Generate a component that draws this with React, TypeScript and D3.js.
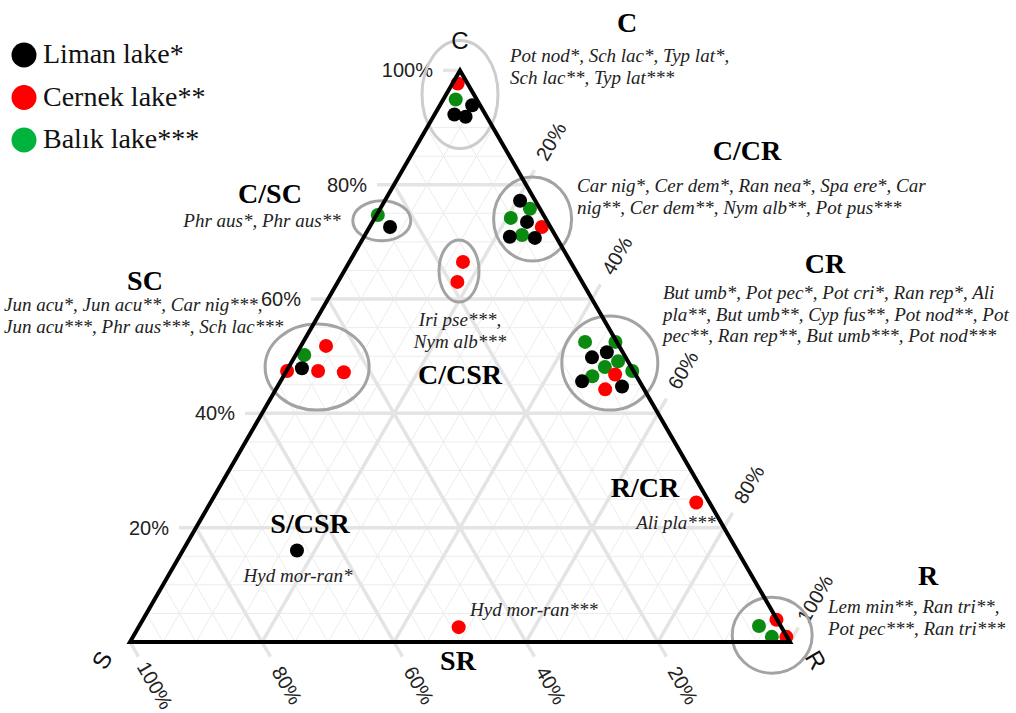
import React from 'react';
import * as d3 from 'd3';

const limanPoints: [number, number, number][] = [
  [93.9, 1.2, 4.9], [92.3, 4.7, 3.0], [91.9, 3.2, 4.9],
  [77.2, 2.3, 20.5], [73.5, 3.1, 23.4], [70.9, 7.0, 22.1], [70.7, 3.3, 26.0],
  [49.8, 5.1, 45.1], [50.7, 2.4, 46.9], [45.6, 8.7, 45.7], [44.7, 3.1, 52.2],
  [72.6, 24.3, 3.1],
  [47.9, 50.0, 2.1],
  [16.0, 66.7, 17.3],
];
const cernekPoints: [number, number, number][] = [
  [97.7, 1.5, 0.8],
  [72.6, 1.3, 26.1],
  [46.8, 3.1, 50.1], [44.2, 5.9, 49.9],
  [66.5, 16.3, 17.2], [63.0, 18.9, 18.1],
  [51.8, 44.4, 3.8], [47.4, 52.5, 0.1], [47.4, 47.8, 4.8], [47.2, 44.0, 8.8],
  [24.4, 2.0, 73.6],
  [2.6, 48.9, 48.5],
  [3.9, 0.1, 96.0], [0.9, 0.1, 99.0],
];
const balikPoints: [number, number, number][] = [
  [94.9, 3.2, 1.9],
  [75.8, 1.5, 22.7], [74.2, 5.2, 20.6], [71.2, 5.0, 23.8],
  [52.5, 4.8, 42.7], [52.5, 0.2, 47.3], [49.1, 1.5, 49.4], [48.1, 4.0, 47.9], [47.4, 0.2, 52.4], [46.5, 6.7, 46.8],
  [74.7, 25.1, 0.2],
  [50.2, 48.5, 1.3],
  [2.8, 3.3, 93.9], [0.9, 2.3, 96.8],
];

const lakeNames = ['Liman lake*', 'Cernek lake**', 'Balık lake***'];
const tickValues = [20, 40, 60, 80, 100];

// strategy groups circled on the chart: centre as [C, S, R], then ellipse radii
const groupEllipses: { c: number; s: number; r: number; rx: number; ry: number; light?: boolean }[] = [
  { c: 95.8, s: 2.1, r: 2.1, rx: 38, ry: 54, light: true },
  { c: 74.0, s: 2.0, r: 24.0, rx: 39, ry: 42 },
  { c: 48.8, s: 2.9, r: 48.3, rx: 48, ry: 47 },
  { c: 73.7, s: 25.0, r: 1.3, rx: 29, ry: 20 },
  { c: 64.9, s: 17.7, r: 17.4, rx: 20, ry: 31 },
  { c: 48.1, s: 47.6, r: 4.3, rx: 52, ry: 43 },
  { c: 1.2, s: 2.1, r: 96.7, rx: 40, ry: 38 },
];

const headings = [
  { text: 'C', x: 627, y: 32 },
  { text: 'C/CR', x: 747, y: 160 },
  { text: 'CR', x: 825, y: 273 },
  { text: 'C/SC', x: 270, y: 203 },
  { text: 'SC', x: 145, y: 290 },
  { text: 'C/CSR', x: 460, y: 384 },
  { text: 'R/CR', x: 645, y: 497 },
  { text: 'S/CSR', x: 310, y: 533 },
  { text: 'SR', x: 458, y: 670 },
  { text: 'R', x: 928, y: 585 },
];

const speciesNotes: { lines: string[]; x: number; y: number; anchor: string }[] = [
  { lines: ['Pot nod*, Sch lac*, Typ lat*,', 'Sch lac**, Typ lat***'], x: 510, y: 62, anchor: 'start' },
  { lines: ['Car nig*, Cer dem*, Ran nea*, Spa ere*, Car', 'nig**, Cer dem**, Nym alb**, Pot pus***'], x: 577, y: 192, anchor: 'start' },
  { lines: ['But umb*, Pot pec*, Pot cri*, Ran rep*, Ali', 'pla**, But umb**, Cyp fus**, Pot nod**, Pot', 'pec**, Ran rep**, But umb***, Pot nod***'], x: 663, y: 299, anchor: 'start' },
  { lines: ['Phr aus*, Phr aus**'], x: 262, y: 227, anchor: 'middle' },
  { lines: ['Jun acu*, Jun acu**, Car nig***,', 'Jun acu***, Phr aus***, Sch lac***'], x: 4, y: 311, anchor: 'start' },
  { lines: ['Iri pse***,', 'Nym alb***'], x: 460, y: 326, anchor: 'middle' },
  { lines: ['Ali pla***'], x: 676, y: 529, anchor: 'middle' },
  { lines: ['Hyd mor-ran*'], x: 298, y: 582, anchor: 'middle' },
  { lines: ['Hyd mor-ran***'], x: 470, y: 616, anchor: 'start' },
  { lines: ['Lem min**, Ran tri**,', 'Pot pec***, Ran tri***'], x: 828, y: 613, anchor: 'start' },
];

const W = 1016;
const H = 713;
const left = 130;
const side = 660;
const base = 642;
const height = side * Math.sqrt(3) / 2;

const xScale = d3.scaleLinear().domain([0, 100]).range([0, side]);
const yScale = d3.scaleLinear().domain([0, 100]).range([base, base - height]);

const project = (c: number, r: number): [number, number] => [left + xScale(r) + xScale(c) / 2, yScale(c)];

const sans = '"Liberation Sans", Arial, sans-serif';
const serif = '"Liberation Serif", "Times New Roman", serif';
const colors = ['#000000', '#ff0000', '#0b8a12'];
const legendColors = ['#000000', '#ff0000', '#00b33c'];

const App: React.FC = () => {
  const minor = d3.range(5, 100, 5);
  const tickLen = 17;
  const labelDist = 50;
  const dirR: [number, number] = [0.5, -Math.sqrt(3) / 2];
  const dirS: [number, number] = [0.5, Math.sqrt(3) / 2];

  const gridLines = (v: number) => [
    [project(v, 0), project(v, 100 - v)],
    [project(0, v), project(100 - v, v)],
    [project(0, 100 - v), project(100 - v, 0)],
  ];

  const corners = [project(100, 0), project(0, 0), project(0, 100)];
  const series = [
    { pts: balikPoints, color: colors[2] },
    { pts: cernekPoints, color: colors[1] },
    { pts: limanPoints, color: colors[0] },
  ];

  return (
    <svg width={W} height={H} style={{ position: 'absolute', left: 0, top: 0, background: '#fff' }}>
      {/* minor grid */}
      <g stroke="#ececec" strokeWidth={1}>
        {minor.filter((v) => v % 20 !== 0).flatMap((v) =>
          gridLines(v).map(([a, b], i) => <line key={`m${v}-${i}`} x1={a[0]} y1={a[1]} x2={b[0]} y2={b[1]} />)
        )}
      </g>
      {/* major grid + ticks */}
      <g stroke="#e4e4e4" strokeWidth={3.5}>
        {tickValues.filter((v) => v < 100).flatMap((v) =>
          gridLines(v).map(([a, b], i) => <line key={`M${v}-${i}`} x1={a[0]} y1={a[1]} x2={b[0]} y2={b[1]} />)
        )}
        {tickValues.map((v) => {
          const pc = project(v, 0);
          const pr = project(100 - v, v);
          const ps = project(0, 100 - v);
          return (
            <g key={`t${v}`}>
              <line x1={pc[0] - tickLen} y1={pc[1]} x2={pc[0]} y2={pc[1]} />
              <line x1={pr[0]} y1={pr[1]} x2={pr[0] + dirR[0] * tickLen} y2={pr[1] + dirR[1] * tickLen} />
              <line x1={ps[0]} y1={ps[1]} x2={ps[0] + dirS[0] * tickLen} y2={ps[1] + dirS[1] * tickLen} />
            </g>
          );
        })}
      </g>
      {/* tick labels */}
      <g fontFamily={sans} fontSize={20} fill="#222">
        {tickValues.map((v) => {
          const pc = project(v, 0);
          const pr = project(100 - v, v);
          const ps = project(0, 100 - v);
          const lr = [pr[0] + dirR[0] * labelDist, pr[1] + dirR[1] * labelDist];
          const ls = [ps[0] + dirS[0] * labelDist, ps[1] + dirS[1] * labelDist];
          return (
            <g key={`l${v}`}>
              <text x={pc[0] - 27} y={pc[1]} textAnchor="end" dominantBaseline="central">{`${v}%`}</text>
              <text x={lr[0]} y={lr[1]} textAnchor="middle" dominantBaseline="central" transform={`rotate(-60 ${lr[0]} ${lr[1]})`}>{`${v}%`}</text>
              <text x={ls[0]} y={ls[1]} textAnchor="middle" dominantBaseline="central" transform={`rotate(60 ${ls[0]} ${ls[1]})`}>{`${v}%`}</text>
            </g>
          );
        })}
      </g>
      {/* group ellipses */}
      {groupEllipses.map((e, i) => {
        const [cx, cy] = project(e.c, e.r);
        return <ellipse key={`e${i}`} cx={cx} cy={cy} rx={e.rx} ry={e.ry} fill="none" stroke={e.light ? '#cdcdcd' : '#a3a3a3'} strokeWidth={3} />;
      })}
      {/* points */}
      {series.map((sr, si) => (
        <g key={`s${si}`} fill={sr.color}>
          {sr.pts.map(([c, , r], i) => {
            const [x, y] = project(c, r);
            return <circle key={i} cx={x} cy={y} r={7} />;
          })}
        </g>
      ))}
      {/* triangle */}
      <polygon points={corners.map((p) => p.join(',')).join(' ')} fill="none" stroke="#000" strokeWidth={4} strokeLinejoin="miter" />
      {/* vertex labels */}
      <g fontFamily={sans} fontSize={24} fill="#111">
        <text x={corners[0][0]} y={corners[0][1] - 30} textAnchor="middle" dominantBaseline="central">C</text>
        <text x={corners[1][0] - 28} y={corners[1][1] + 18} textAnchor="middle" dominantBaseline="central" transform={`rotate(-60 ${corners[1][0] - 28} ${corners[1][1] + 18})`}>S</text>
        <text x={corners[2][0] + 26} y={corners[2][1] + 18} textAnchor="middle" dominantBaseline="central" transform={`rotate(60 ${corners[2][0] + 26} ${corners[2][1] + 18})`}>R</text>
      </g>
      {/* strategy headings */}
      <g fontFamily={serif} fontSize={28} fontWeight="bold" fill="#000" textAnchor="middle">
        {headings.map((h) => <text key={h.text} x={h.x} y={h.y}>{h.text}</text>)}
      </g>
      {/* species notes */}
      <g fontFamily={serif} fontSize={19} fontStyle="italic" fill="#222">
        {speciesNotes.map((n, i) => (
          <text key={`n${i}`} x={n.x} y={n.y} textAnchor={n.anchor}>
            {n.lines.map((ln, j) => <tspan key={j} x={n.x} dy={j === 0 ? 0 : 21.5}>{ln}</tspan>)}
          </text>
        ))}
      </g>
      {/* legend */}
      <g fontFamily={serif} fontSize={28} fill="#111">
        {lakeNames.map((name, i) => (
          <g key={name} transform={`translate(0, ${55 + i * 42.5})`}>
            <circle cx={24} cy={0} r={12.5} fill={legendColors[i]} />
            <text x={43} y={8}>{name}</text>
          </g>
        ))}
      </g>
    </svg>
  );
};

export default App;
